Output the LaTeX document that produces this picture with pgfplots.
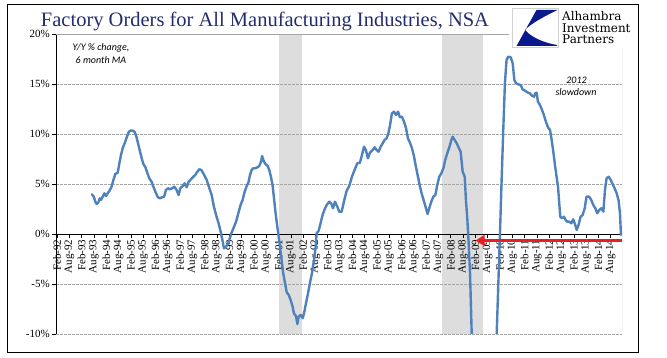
\documentclass[border=0pt]{standalone}
\usepackage{fontspec}
\setmainfont{Liberation Serif}
\newfontfamily\calib{Carlito}
\newfontfamily\logofont{DejaVu Serif}
\usepackage{pgfplots}
\pgfplotsset{compat=1.18}
\usetikzlibrary{arrows.meta}
\definecolor{linec}{RGB}{79,129,189}
\definecolor{shade}{RGB}{221,221,221}
\definecolor{titlec}{RGB}{35,45,110}
\definecolor{gridc}{RGB}{166,166,166}
\definecolor{logoblue}{RGB}{10,25,140}
\definecolor{arrowred}{RGB}{235,28,36}

\begin{document}
\begin{tikzpicture}
\begin{axis}[
  at={(56pt,24pt)}, anchor=south west,
  width=566pt, height=300pt, scale only axis,
  set layers,
  xmin=-0.5, xmax=275.5, ymin=-10, ymax=20,
  axis x line=middle, axis y line=left,
  x axis line style={-, black, line width=0.8pt},
  y axis line style={-, black, line width=0.8pt},
  hide obscured x ticks=false, hide obscured y ticks=false,
  xtick={0,6,...,270},
  xticklabels={Feb-92,Aug-92,Feb-93,Aug-93,Feb-94,Aug-94,Feb-95,Aug-95,Feb-96,Aug-96,Feb-97,Aug-97,Feb-98,Aug-98,Feb-99,Aug-99,Feb-00,Aug-00,Feb-01,Aug-01,Feb-02,Aug-02,Feb-03,Aug-03,Feb-04,Aug-04,Feb-05,Aug-05,Feb-06,Aug-06,Feb-07,Aug-07,Feb-08,Aug-08,Feb-09,Aug-09,Feb-10,Aug-10,Feb-11,Aug-11,Feb-12,Aug-12,Feb-13,Aug-13,Feb-14,Aug-14},
  xticklabel style={rotate=90, anchor=east, font=\fontsize{11}{11}\selectfont, inner sep=1.5pt},
  xtick align=outside,
  ytick={-10,-5,0,5,10,15,20},
  yticklabels={-10\%,-5\%,0\%,5\%,10\%,15\%,20\%},
  yticklabel style={font=\fontsize{11}{11}\selectfont, inner sep=2pt},
  ytick align=outside,
  major tick length=4pt,
  tick style={black, line width=0.6pt},
  ymajorgrids,
  major grid style={gridc, line width=0.5pt, dash pattern=on 2.5pt off 1.5pt},
]
\addplot[draw=none, fill=shade, on layer=axis background] coordinates {(108.2,-10) (108.2,20) (119.3,20) (119.3,-10)} -- cycle;
\addplot[draw=none, fill=shade, on layer=axis background] coordinates {(187.8,-10) (187.8,20) (207.5,20) (207.5,-10)} -- cycle;

\addplot[linec, line width=2.4pt, line join=round, line cap=round, mark=none] coordinates {
(17,3.97)(17.9,3.73)(18.7,3.23)(19.3,3.0)(20.1,3.13)(20.8,3.57)(21.4,3.4)(22.3,3.73)(23.1,4.07)(23.9,3.8)(24.7,4.07)(25.5,4.3)(26.5,4.67)(27.5,5.4)(28.4,6.0)(29.6,6.13)(30.4,7.07)(31.2,7.9)(32,8.57)(33.1,9.13)(34,9.67)(34.9,10.17)(35.6,10.33)(36.9,10.33)(37.9,10.2)(38.7,9.73)(39.5,9.07)(40.5,8.23)(41.3,7.57)(42.1,7.0)(43.1,6.67)(44,6.13)(45,5.57)(46.1,5.23)(47.1,4.67)(48.3,4.07)(49.2,3.67)(50.2,3.57)(51.2,3.67)(52.2,3.73)(53.1,4.4)(54.1,4.57)(55.1,4.47)(56.1,4.57)(57.2,4.73)(58.3,4.4)(59.3,3.9)(60.1,4.57)(61.3,4.8)(62.2,5.07)(63.2,4.67)(64.2,5.23)(65.3,5.47)(66.5,5.73)(67.4,5.9)(68.4,6.23)(69.4,6.47)(70.4,6.4)(71.3,6.07)(73,5.4)(74.3,4.57)(75.4,3.9)(76.5,2.73)(77.8,1.73)(78.8,1.07)(79.8,0.23)(80.8,-0.77)(81.4,-1.43)(82.4,-1.27)(83,-1.1)(84,-0.6)(85,0.07)(86,0.57)(87.3,1.23)(88.4,2.07)(89.5,2.9)(90.5,3.4)(91.5,4.23)(92.5,4.8)(93.3,5.13)(94.1,5.9)(94.9,6.4)(95.7,6.57)(96.7,6.57)(97.7,6.67)(98.6,6.8)(99.5,7.23)(100,7.8)(100.6,7.4)(101.4,7.07)(102.7,6.8)(103.5,6.4)(104.3,5.73)(105.1,4.9)(105.8,3.57)(106.4,2.4)(107.1,1.23)(107.9,0)(108.7,-1.27)(109.5,-2.6)(110.3,-3.93)(111.2,-4.93)(112,-5.83)(113,-6.1)(113.9,-6.6)(114.9,-7.27)(115.5,-7.93)(116.5,-8.2)(117.2,-9.0)(117.8,-8.27)(118.8,-8.1)(119.8,-8.43)(120.6,-7.77)(121.4,-6.93)(122.4,-5.93)(123.3,-4.93)(124.3,-3.93)(125.3,-2.6)(126.1,-1.27)(126.6,0.07)(127.6,0.33)(128.5,1.07)(129.5,1.9)(130.5,2.47)(131.5,2.9)(132.8,3.23)(133.7,3.07)(134.6,2.57)(135.5,3.23)(136.7,2.73)(137.6,2.23)(138.8,2.23)(140.2,3.5)(141.2,4.3)(142.5,4.8)(143.8,5.73)(145.1,6.4)(146.4,7.07)(147.7,7.13)(148.7,7.9)(149.7,8.73)(150.6,8.4)(151.6,7.57)(152.6,8.13)(153.9,8.4)(154.9,8.67)(155.8,8.4)(156.8,8.23)(157.8,8.73)(158.8,9.07)(159.7,9.4)(160.7,9.57)(161.5,10.0)(162.4,10.9)(163.3,12.07)(164.3,12.23)(165.3,11.9)(166.3,12.23)(167.2,11.67)(168.2,11.73)(169.2,11.23)(170.2,10.57)(171.1,9.57)(172.1,9.13)(173.1,8.57)(174.1,7.73)(175,6.73)(176,5.73)(177,4.73)(178,3.9)(179,3.23)(179.9,2.57)(180.7,2.0)(181.5,2.57)(182.5,3.23)(183.5,3.73)(184.5,3.9)(185.4,4.9)(186.4,5.73)(187.4,6.07)(188.4,6.57)(189.3,7.4)(190.3,8.07)(191.3,8.67)(192.3,9.4)(192.9,9.73)(193.9,9.4)(194.9,9.07)(195.8,8.67)(196.8,8.23)(197.8,6.23)(198.8,5.73)(199.4,3.4)(200.1,1.4)(200.5,0)(201.4,-3.93)(202.2,-9.93)(203,-13)(204,-18)(205,-22)(206,-25)(207,-27)(208,-27.5)(209,-27)(210,-25)(211,-22)(212,-18)(213,-14)(214.4,-9.93)(216,0.07)(216.8,5.4)(217.6,10.4)(218.4,15.07)(219.2,17.4)(220,17.73)(221.2,17.67)(222.2,17.07)(223,15.4)(223.8,15.07)(224.9,14.97)(226.1,14.9)(227,14.47)(228.2,14.33)(229.3,14.17)(230.6,14.07)(231.6,13.83)(232.6,13.73)(233.2,14.07)(233.9,14.13)(234.5,13.23)(235.5,12.9)(236.5,12.4)(237.4,11.9)(238.4,11.23)(239.4,10.67)(240.4,10.4)(241.2,9.4)(242,8.23)(242.8,6.9)(243.6,5.73)(244.3,4.73)(244.9,3.07)(245.4,1.73)(246.2,1.57)(247.2,1.73)(248,1.4)(248.8,1.23)(249.8,1.23)(250.8,1.07)(251.7,1.47)(252.7,0.9)(253.4,0.4)(254.3,0.9)(255.3,1.73)(256.3,1.9)(257.3,2.57)(258.2,3.73)(259.5,3.73)(260.5,3.4)(261.5,2.9)(262.5,2.57)(263.4,2.07)(264.4,2.4)(265.4,2.57)(266.4,2.23)(267.2,4.4)(268,5.57)(269,5.73)(270,5.4)(270.9,5.0)(271.9,4.57)(272.9,4.07)(273.8,3.4)(274.5,2.07)(275,-0.1)
};
\draw[gridc, line width=0.8pt] (rel axis cs:0,1) -- (rel axis cs:1,1) -- (rel axis cs:1,0) -- (rel axis cs:0,0);
\end{axis}

\begin{scope}[x=1pt, y=-1pt, yshift=358pt]
  % outer frame
  \draw[black, line width=0.9pt] (7,4) rectangle (638,352);
  % title
  \node[anchor=base, inner sep=0, text=titlec, font=\fontsize{20.5}{22}\selectfont] at (265,26.5) {Factory Orders for All Manufacturing Industries, NSA};
  % logo
  \fill[white] (508.5,5) rectangle (637,47.5);
  \draw[gray!35, line width=0.6pt] (512,8) rectangle (558,47.3);
  \fill[logoblue] (536.5,10) -- (557.5,10) .. controls (545,16) and (530,24) .. (525,30) .. controls (532,38) and (545,43) .. (557,45) -- (557,46) -- (516.5,46) -- cycle;
  \node[anchor=base west, inner sep=0, font=\logofont\fontsize{12}{12}\selectfont] at (562,20.5) {Alhambra};
  \node[anchor=base west, inner sep=0, font=\logofont\fontsize{12}{12}\selectfont] at (562,32.3) {Investment};
  \node[anchor=base west, inner sep=0, font=\logofont\fontsize{12}{12}\selectfont] at (562,44) {Partners};
  % annotations
  \node[anchor=base, inner sep=0, font=\calib\itshape\fontsize{10}{10}\selectfont] at (101,50.5) {Y/Y \% change,};
  \node[anchor=base, inner sep=0, font=\calib\itshape\fontsize{10}{10}\selectfont] at (101,63.3) {6 month MA};
  \node[anchor=base, inner sep=0, font=\calib\itshape\fontsize{10}{10}\selectfont] at (576.5,83.3) {2012};
  \node[anchor=base, inner sep=0, font=\calib\itshape\fontsize{10}{10}\selectfont] at (576,96) {slowdown};
  % red arrow
  \draw[arrowred, line width=3.2pt, -{Triangle[length=9pt,width=11pt]}] (622,240.5) -- (475.7,240.5);
\end{scope}
\pgfresetboundingbox
\path[use as bounding box] (0,0) rectangle (667pt,358pt);
\end{tikzpicture}
\end{document}
